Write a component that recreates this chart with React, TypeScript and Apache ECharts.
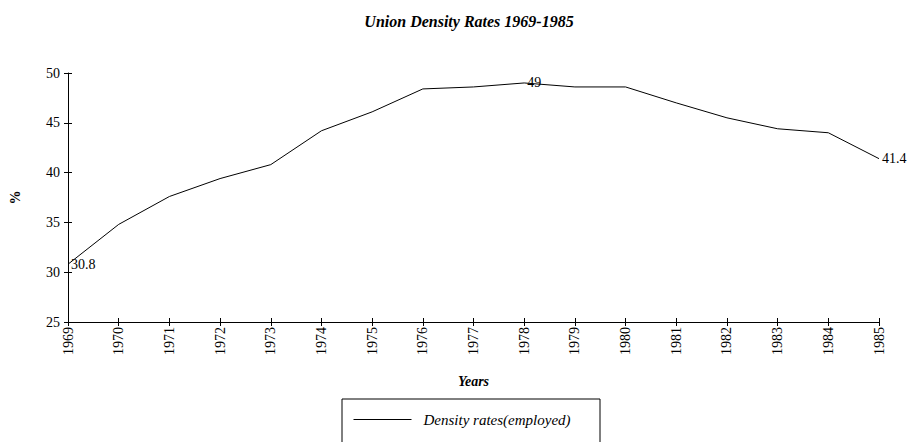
import React, { useEffect, useRef } from "react";
import * as echarts from "echarts";

const years = ["1969","1970","1971","1972","1973","1974","1975","1976","1977","1978","1979","1980","1981","1982","1983","1984","1985"];
const densityRates = [30.8, 34.8, 37.6, 39.4, 40.8, 44.2, 46.1, 48.4, 48.6, 49, 48.6, 48.6, 47.0, 45.5, 44.4, 44.0, 41.4];
const labelledYears = ["1969", "1978", "1985"];
const seriesName = "Density rates(employed)";
const titleText = "Union Density Rates 1969-1985";

const FONT = "'Liberation Serif', 'Times New Roman', serif";

export default function App() {
  const ref = useRef<HTMLDivElement>(null);
  useEffect(() => {
    document.body.style.margin = "0";
    if (!ref.current) return;
    const chart = echarts.init(ref.current, null, { renderer: "svg" });
    const data = densityRates.map((v, i) => ({
      value: v,
      label: { show: labelledYears.includes(years[i]) },
    }));
    chart.setOption({
      animation: false,
      backgroundColor: "#ffffff",
      textStyle: { fontFamily: FONT, color: "#000" },
      graphic: [
        {
          type: "text",
          x: 469,
          y: 13,
          style: {
            text: titleText,
            font: `italic bold 16px ${FONT}`,
            fill: "#000",
            textAlign: "center",
          },
        },
        {
          type: "rect",
          shape: { x: 342, y: 399, width: 258, height: 60 },
          style: { fill: "none", stroke: "#000", lineWidth: 1 },
          silent: true,
        },
      ],
      grid: { left: 63, right: 33, top: 73, bottom: 120, containLabel: false },
      legend: {
        data: [seriesName],
        left: 353,
        top: 412,
        padding: 0,
        itemWidth: 58,
        itemHeight: 14,
        itemGap: 0,
        itemStyle: { color: "rgba(0,0,0,0)", borderWidth: 0 },
        lineStyle: { color: "#000", width: 1 },
        textStyle: {
          fontFamily: FONT,
          fontStyle: "italic",
          fontSize: 15,
          color: "#000",
          padding: [0, 0, 0, 7],
        },
      },
      xAxis: [
        {
          type: "category",
          data: years,
          boundaryGap: false,
          name: "Years",
          nameLocation: "middle",
          nameGap: 52,
          nameTextStyle: { fontFamily: FONT, fontStyle: "italic", fontWeight: "bold", fontSize: 14, color: "#000" },
          axisLine: { lineStyle: { color: "#000", width: 1 } },
          axisTick: { show: true, length: 4, alignWithLabel: true, lineStyle: { color: "#000" } },
          axisLabel: { rotate: 90, margin: 5, fontFamily: FONT, fontSize: 14, color: "#000", interval: 0 },
          splitLine: { show: false },
        },
        {
          type: "category",
          data: years,
          boundaryGap: false,
          position: "bottom",
          axisLine: { show: false },
          axisTick: { show: true, inside: true, length: 4, lineStyle: { color: "#000" } },
          axisLabel: { show: false },
          splitLine: { show: false },
        },
      ],
      yAxis: [
        {
          type: "value",
          min: 25,
          max: 50,
          interval: 5,
          name: "%",
          nameLocation: "middle",
          nameRotate: 90,
          nameGap: 46,
          nameTextStyle: { fontFamily: FONT, fontWeight: "bold", fontSize: 14, color: "#000" },
          axisLine: { show: true, lineStyle: { color: "#000", width: 1 } },
          axisTick: { show: true, length: 4, lineStyle: { color: "#000" } },
          axisLabel: { margin: 8, fontFamily: FONT, fontSize: 14, color: "#000" },
          splitLine: { show: false },
        },
        {
          type: "value",
          min: 25,
          max: 50,
          interval: 5,
          position: "left",
          axisLine: { show: false },
          axisTick: { show: true, inside: true, length: 4, lineStyle: { color: "#000" } },
          axisLabel: { show: false },
          splitLine: { show: false },
        },
      ],
      series: [
        {
          name: seriesName,
          type: "line",
          data,
          symbol: "circle",
          symbolSize: 0,
          showAllSymbol: true,
          lineStyle: { color: "#000", width: 1 },
          itemStyle: { color: "#000" },
          label: {
            position: "right",
            distance: 3,
            fontFamily: FONT,
            fontSize: 14,
            color: "#000",
          },
        },
      ],
    });
    return () => chart.dispose();
  }, []);
  return <div ref={ref} style={{ width: 912, height: 442 }} />;
}
